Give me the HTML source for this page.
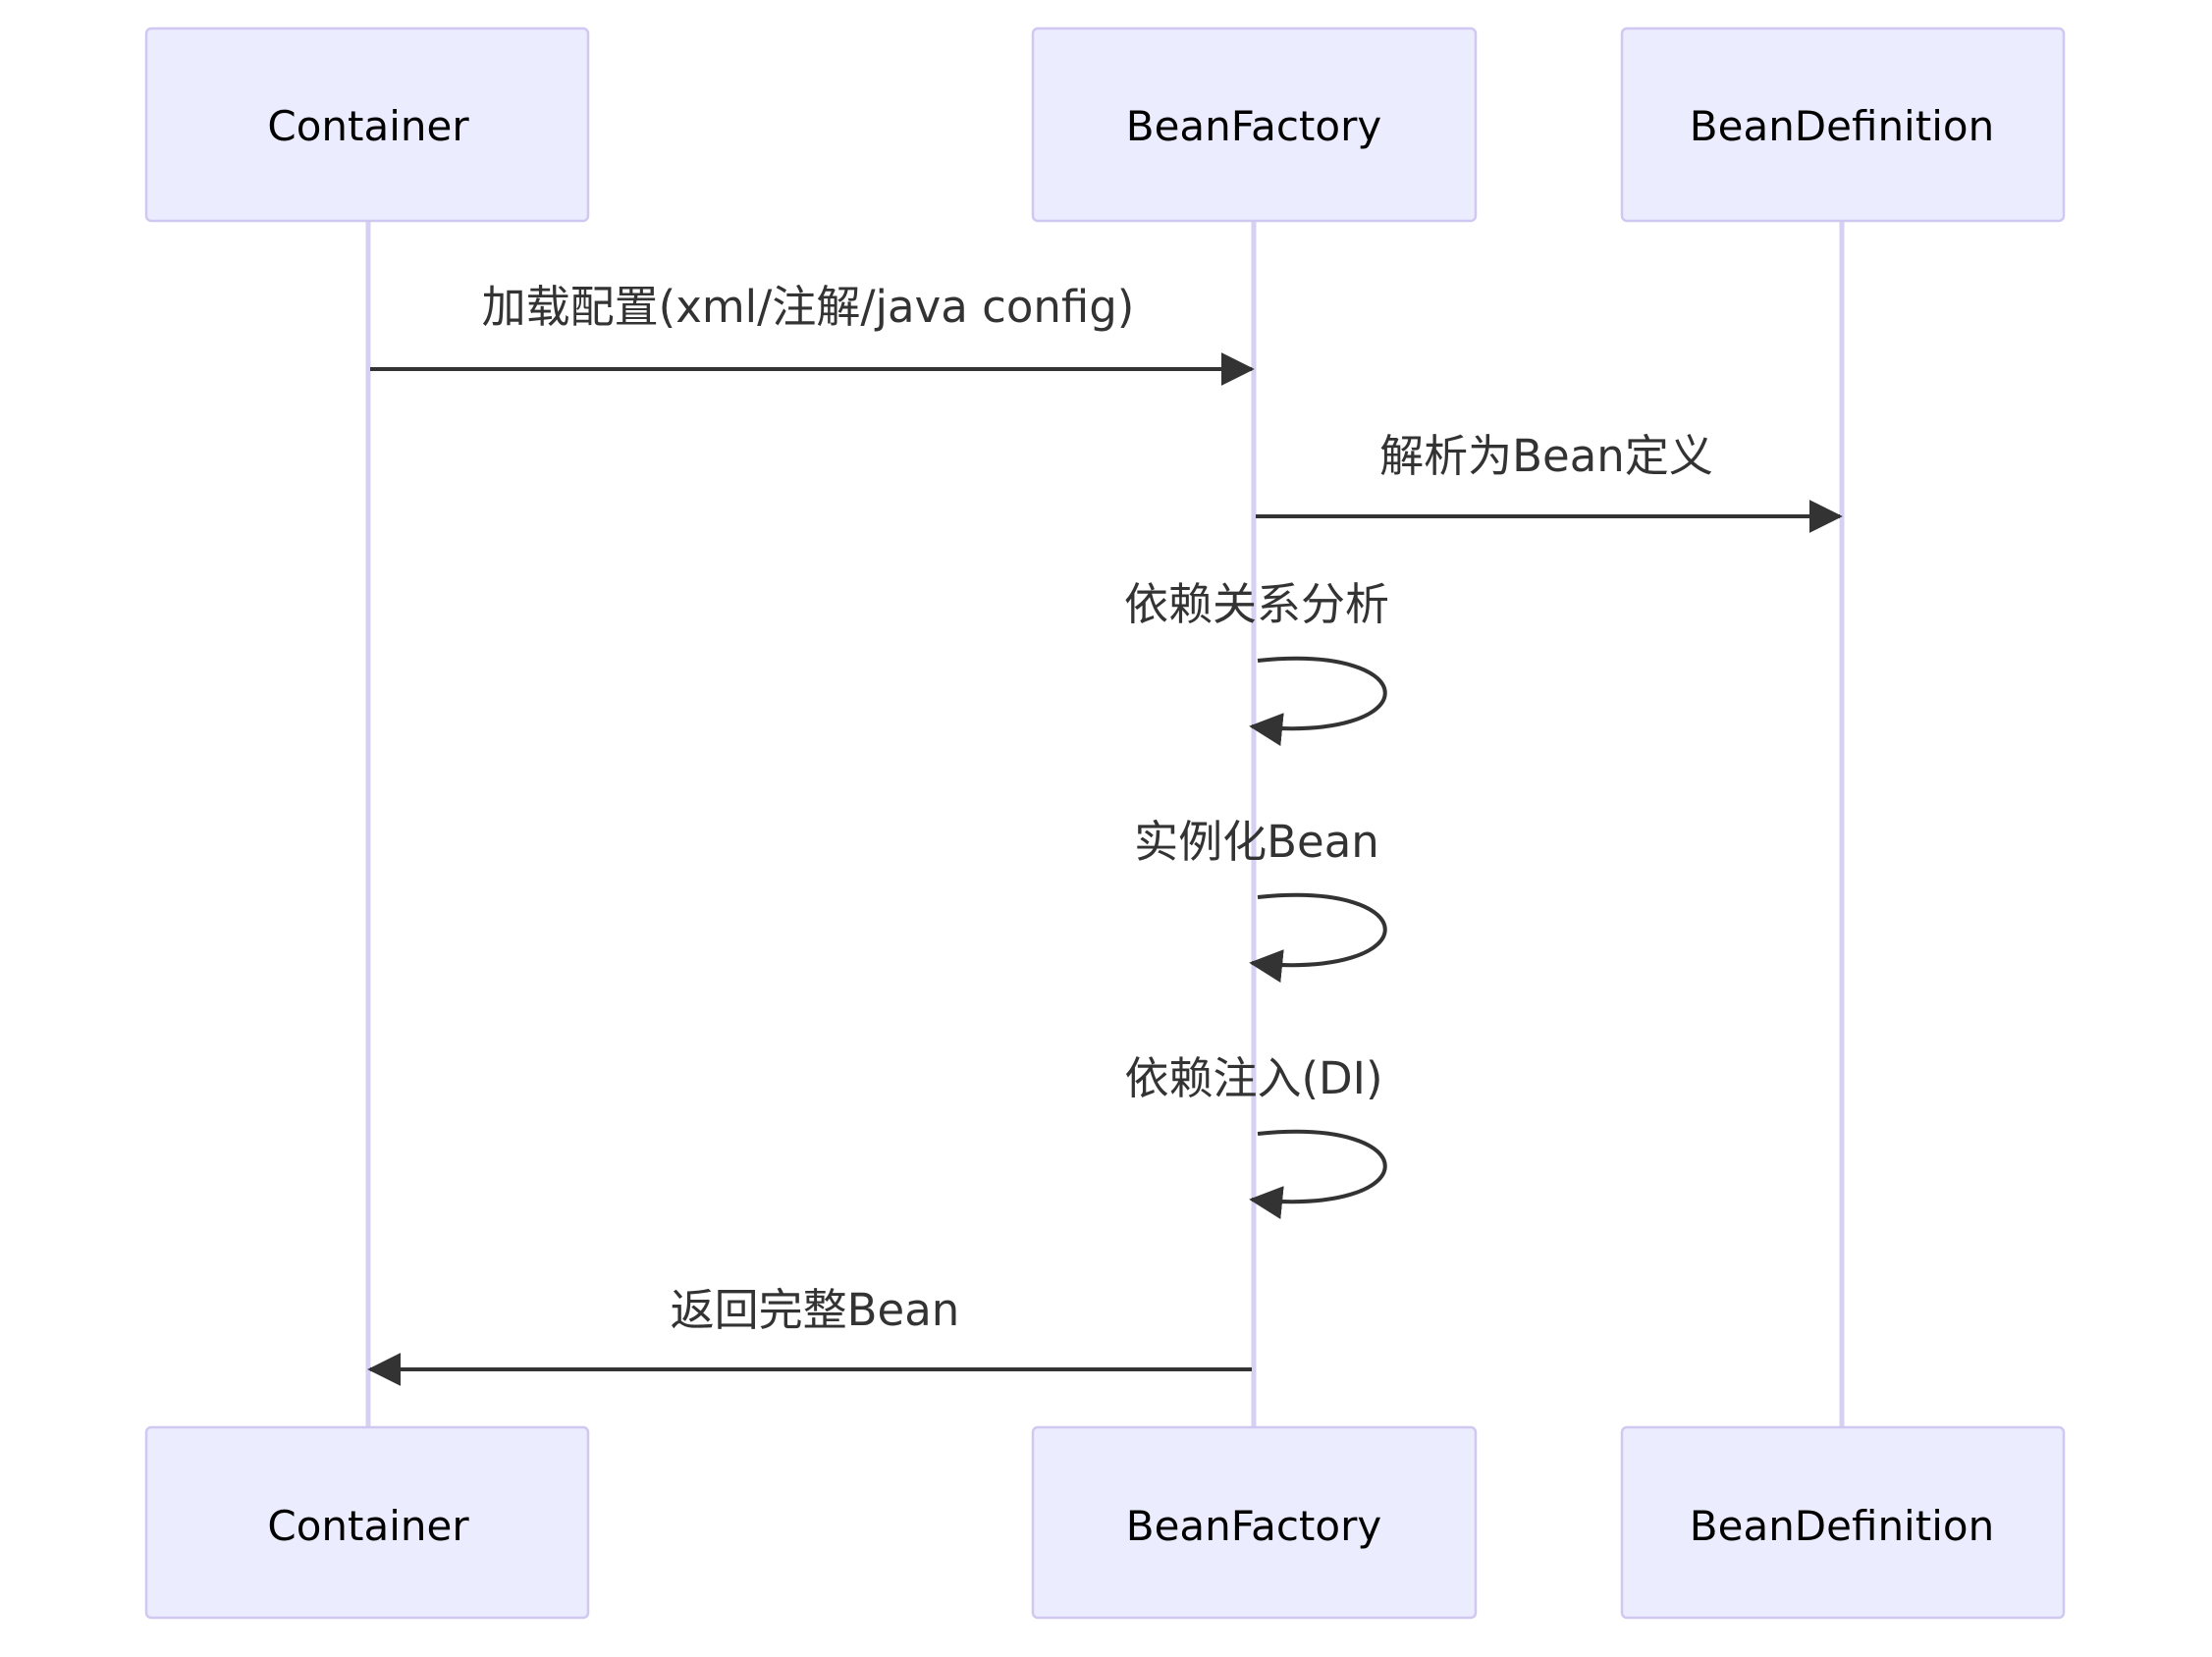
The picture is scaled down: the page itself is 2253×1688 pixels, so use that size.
<!DOCTYPE html>
<html><head><meta charset="utf-8"><style>
html,body{margin:0;padding:0;background:#fff}
svg text{font-family:"DejaVu Sans","Noto Sans CJK SC",sans-serif;fill:#333}
</style></head><body>
<svg width="2253" height="1683" viewBox="0 0 2253 1683" xmlns="http://www.w3.org/2000/svg">
<defs>
<marker id="b" viewBox="0 0 12 12" markerWidth="34" markerHeight="34" refX="11" refY="6" orient="auto" markerUnits="userSpaceOnUse"><path d="M0,0 L12,6 L0,12 z" fill="#333"/></marker></defs>
<g stroke="#d6d0f2" stroke-width="5">
<line x1="375" y1="225" x2="375" y2="1454"/>
<line x1="1277" y1="225" x2="1277" y2="1454"/>
<line x1="1876" y1="225" x2="1876" y2="1454"/>
</g>
<g fill="#ECECFF" stroke="#d0c8f0" stroke-width="2.5">
<rect x="149" y="29" width="450" height="196" rx="5"/>
<rect x="1052" y="29" width="451" height="196" rx="5"/>
<rect x="1652" y="29" width="450" height="196" rx="5"/>
<rect x="149" y="1454" width="450" height="194" rx="5"/>
<rect x="1052" y="1454" width="451" height="194" rx="5"/>
<rect x="1652" y="1454" width="450" height="194" rx="5"/>
</g>
<g font-size="42" text-anchor="middle">
<text x="375" y="143" style="fill:#000">Container</text>
<text x="1277" y="143" style="fill:#000">BeanFactory</text>
<text x="1876" y="143" style="fill:#000">BeanDefinition</text>
<text x="375" y="1569" style="fill:#000">Container</text>
<text x="1277" y="1569" style="fill:#000">BeanFactory</text>
<text x="1876" y="1569" style="fill:#000">BeanDefinition</text>
</g>
<g stroke="#333" stroke-width="4" fill="none">
<line x1="377" y1="376" x2="1275" y2="376" marker-end="url(#b)"/>
<line x1="1279" y1="526" x2="1874" y2="526" marker-end="url(#b)"/>
<path d="M1281,673 C1455,655 1455,758 1275,740" marker-end="url(#b)"/>
<path d="M1281,914 C1455,896 1455,999 1275,981" marker-end="url(#b)"/>
<path d="M1281,1155 C1455,1137 1455,1240 1275,1222" marker-end="url(#b)"/>
<line x1="1275" y1="1395" x2="377" y2="1395" marker-end="url(#b)"/>
</g>
<g font-size="45" text-anchor="middle">
<text x="823" y="328">加载配置(xml/注解/java config)</text>
<text x="1575" y="480">解析为Bean定义</text>
<text x="1280" y="631">依赖关系分析</text>
<text x="1280" y="873">实例化Bean</text>
<text x="1277" y="1114">依赖注入(DI)</text>
<text x="830" y="1350">返回完整Bean</text>
</g>
</svg>
</body></html>
